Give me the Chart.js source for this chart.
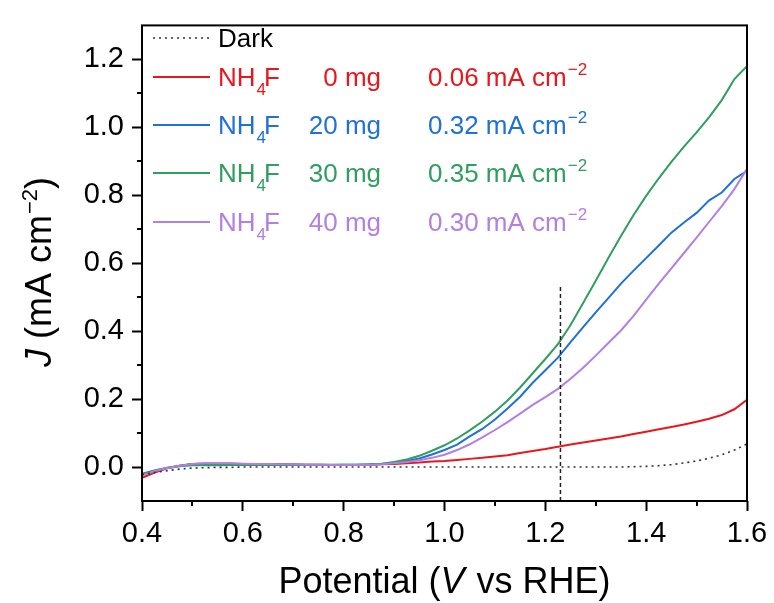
<!DOCTYPE html>
<html>
<head>
<meta charset="utf-8">
<title>LSV curves</title>
<script src="https://cdn.jsdelivr.net/npm/chart.js@4.4.1/dist/chart.umd.min.js"></script>
<style>
  html, body { margin: 0; padding: 0; background: #fff; }
  #wrap { width: 774px; height: 603px; }
</style>
</head>
<body>
<div id="wrap"><canvas id="lsv-chart" width="774" height="603"></canvas></div>
<script>
// applied potential (V vs RHE), shared by every sweep
const potential = [
  0.400, 0.425, 0.450, 0.475, 0.500, 0.525, 0.550, 0.575, 0.600, 0.625,
  0.650, 0.675, 0.700, 0.725, 0.750, 0.775, 0.800, 0.825, 0.850, 0.875,
  0.900, 0.925, 0.950, 0.975, 1.000, 1.025, 1.050, 1.075, 1.100, 1.125,
  1.150, 1.175, 1.200, 1.225, 1.250, 1.275, 1.300, 1.325, 1.350, 1.375,
  1.400, 1.425, 1.450, 1.475, 1.500, 1.525, 1.550, 1.575, 1.600
];

// current density (mA cm-2)
const darkCurrent = [
  -0.022, -0.016, -0.011, -0.006, -0.003, -0.002, -0.001, -0.001, 0.000, 0.000,
  0.000, 0.000, 0.000, 0.000, 0.000, 0.000, 0.000, 0.000, 0.000, 0.000,
  0.000, 0.000, 0.000, 0.000, 0.000, 0.000, 0.000, 0.000, 0.000, 0.000,
  0.000, 0.000, 0.000, 0.000, 0.000, 0.000, 0.000, 0.000, 0.000, 0.001,
  0.002, 0.004, 0.007, 0.012, 0.018, 0.026, 0.036, 0.050, 0.068
];
const nh4f0 = [
  -0.032, -0.016, -0.004, 0.004, 0.009, 0.010, 0.010, 0.010, 0.009, 0.009,
  0.008, 0.008, 0.007, 0.007, 0.007, 0.006, 0.006, 0.006, 0.007, 0.008,
  0.009, 0.011, 0.013, 0.016, 0.018, 0.021, 0.024, 0.027, 0.031, 0.035,
  0.041, 0.047, 0.053, 0.060, 0.066, 0.072, 0.078, 0.084, 0.090, 0.097,
  0.104, 0.111, 0.118, 0.125, 0.133, 0.142, 0.153, 0.170, 0.198
];
const nh4f20 = [
  -0.020, -0.010, -0.002, 0.004, 0.009, 0.010, 0.010, 0.010, 0.009, 0.009,
  0.008, 0.008, 0.008, 0.007, 0.007, 0.007, 0.007, 0.007, 0.007, 0.009,
  0.013, 0.018, 0.025, 0.037, 0.050, 0.066, 0.090, 0.112, 0.140, 0.172,
  0.207, 0.248, 0.285, 0.322, 0.368, 0.412, 0.455, 0.497, 0.540, 0.578,
  0.615, 0.652, 0.690, 0.720, 0.748, 0.785, 0.808, 0.848, 0.872
];
const nh4f30 = [
  -0.022, -0.011, -0.003, 0.002, 0.005, 0.005, 0.005, 0.006, 0.006, 0.006,
  0.006, 0.006, 0.006, 0.006, 0.006, 0.006, 0.007, 0.007, 0.008, 0.010,
  0.015, 0.022, 0.033, 0.048, 0.064, 0.084, 0.108, 0.134, 0.163, 0.196,
  0.234, 0.276, 0.318, 0.362, 0.418, 0.483, 0.548, 0.615, 0.680, 0.742,
  0.798, 0.850, 0.898, 0.943, 0.985, 1.030, 1.080, 1.142, 1.180
];
const nh4f40 = [
  -0.025, -0.012, -0.003, 0.004, 0.009, 0.011, 0.011, 0.011, 0.010, 0.009,
  0.009, 0.008, 0.008, 0.007, 0.007, 0.006, 0.006, 0.006, 0.006, 0.008,
  0.011, 0.015, 0.020, 0.027, 0.036, 0.050, 0.067, 0.087, 0.109, 0.132,
  0.157, 0.183, 0.206, 0.230, 0.260, 0.292, 0.328, 0.365, 0.402, 0.445,
  0.493, 0.540, 0.585, 0.630, 0.675, 0.722, 0.768, 0.818, 0.878
];

// legend entries: NH4F amount and photocurrent at 1.23 V
const nh4fMass = ["0 mg", "20 mg", "30 mg", "40 mg"];
const currentAt123 = [0.06, 0.32, 0.35, 0.30];

// reference line at the water oxidation potential
const refPotential = 1.23;
const refSpan = [-0.1, 0.53];

const xTickValues = [0.4, 0.6, 0.8, 1.0, 1.2, 1.4, 1.6];
const xMinorValues = [0.5, 0.7, 0.9, 1.1, 1.3, 1.5];
const yTickValues = [0.0, 0.2, 0.4, 0.6, 0.8, 1.0, 1.2];
const yMinorValues = [0.1, 0.3, 0.5, 0.7, 0.9, 1.1];

const FONT = '"Liberation Sans", Arial, Helvetica, sans-serif';
const seriesColors = ["#e8171e", "#2071d6", "#2f9e5f", "#b27fe3"];

function toPoints(ys) {
  return potential.map((x, i) => ({ x: x, y: ys[i] }));
}

// draws a run of text pieces (sub/superscripts, italics) left to right
function richText(ctx, parts, x, y, measureOnly) {
  let cx = x;
  for (const p of parts) {
    ctx.font = (p.italic ? "italic " : "") + p.size + "px " + FONT;
    if (!measureOnly) ctx.fillText(p.text, cx, y + (p.dy || 0));
    cx += ctx.measureText(p.text).width + (p.kern || 0);
  }
  return cx - x;
}

const decorPlugin = {
  id: "decor",
  afterDatasetsDraw(chart) {
    const ctx = chart.ctx;
    const area = chart.chartArea;
    const xs = chart.scales.x;
    const ys = chart.scales.y;

    ctx.save();
    // frame
    ctx.strokeStyle = "#000";
    ctx.lineWidth = 2;
    ctx.strokeRect(area.left, area.top, area.right - area.left, area.bottom - area.top);

    // minor ticks
    ctx.beginPath();
    yMinorValues.forEach((v) => {
      const py = Math.round(ys.getPixelForValue(v));
      ctx.moveTo(area.left - 5, py);
      ctx.lineTo(area.left, py);
    });
    xMinorValues.forEach((v) => {
      const px = Math.round(xs.getPixelForValue(v));
      ctx.moveTo(px, area.bottom);
      ctx.lineTo(px, area.bottom + 5);
    });
    ctx.stroke();

    // legend
    const rowY = [38, 77, 125, 173, 222];
    ctx.textBaseline = "alphabetic";
    ctx.lineWidth = 1.5;
    ctx.strokeStyle = "#333";
    ctx.setLineDash([2, 4]);
    ctx.beginPath();
    ctx.moveTo(153, rowY[0]);
    ctx.lineTo(210, rowY[0]);
    ctx.stroke();
    ctx.setLineDash([]);
    ctx.fillStyle = "#000";
    ctx.textAlign = "left";
    richText(ctx, [{ text: "Dark", size: 26 }], 218, rowY[0] + 9);

    nh4fMass.forEach((mass, i) => {
      const y = rowY[i + 1];
      const color = seriesColors[i];
      ctx.strokeStyle = color;
      ctx.lineWidth = 2;
      ctx.beginPath();
      ctx.moveTo(153, y);
      ctx.lineTo(210, y);
      ctx.stroke();

      ctx.fillStyle = color;
      ctx.textAlign = "left";
      richText(ctx, [
        { text: "NH", size: 26, kern: 1 },
        { text: "4", size: 17, dy: 9, kern: -2 },
        { text: "F", size: 26 }
      ], 218, y + 9);

      ctx.textAlign = "right";
      ctx.font = "26px " + FONT;
      ctx.fillText(mass, 381, y + 9);

      ctx.textAlign = "left";
      richText(ctx, [
        { text: currentAt123[i].toFixed(2) + " mA cm", size: 26, kern: 1 },
        { text: "\u22122", size: 17, dy: -11 }
      ], 428, y + 9);
    });

    // axis titles
    ctx.fillStyle = "#000";
    ctx.textAlign = "left";
    const xTitle = [
      { text: "Potential (", size: 36 },
      { text: "V", size: 36, italic: true, kern: 2 },
      { text: " vs RHE)", size: 36 }
    ];
    const xw = richText(ctx, xTitle, 0, 0, true);
    richText(ctx, xTitle, (area.left + area.right) / 2 - xw / 2, 593);

    const yTitle = [
      { text: "J", size: 36, italic: true },
      { text: " (mA cm", size: 36, kern: 1 },
      { text: "\u22122", size: 22, dy: -14 },
      { text: ")", size: 36 }
    ];
    const yw = richText(ctx, yTitle, 0, 0, true);
    ctx.translate(51, 272);
    ctx.rotate(-Math.PI / 2);
    richText(ctx, yTitle, -yw / 2, 0);
    ctx.restore();
  }
};

function lineSet(data, color, extra) {
  return Object.assign({
    data: toPoints(data),
    borderColor: color,
    borderWidth: 2,
    pointRadius: 0,
    tension: 0,
    fill: false
  }, extra || {});
}

const ctx = document.getElementById("lsv-chart").getContext("2d");
const lsvChart = new Chart(ctx, {
  type: "line",
  data: {
    datasets: [
      lineSet(darkCurrent, "#333", { borderWidth: 1.6, borderDash: [2, 4] }),
      {
        data: refSpan.map((y) => ({ x: refPotential, y: y })),
        borderColor: "#222",
        borderWidth: 1.5,
        borderDash: [4, 3],
        pointRadius: 0
      },
      lineSet(nh4f40, seriesColors[3]),
      lineSet(nh4f30, seriesColors[2]),
      lineSet(nh4f20, seriesColors[1]),
      lineSet(nh4f0, seriesColors[0])
    ]
  },
  options: {
    responsive: false,
    animation: false,
    devicePixelRatio: 1,
    layout: { padding: { left: 0, right: 27, top: 15, bottom: 0 } },
    plugins: {
      legend: { display: false },
      tooltip: { enabled: false }
    },
    scales: {
      x: {
        type: "linear",
        min: 0.4,
        max: 1.6,
        afterBuildTicks: (scale) => {
          scale.ticks = xTickValues.map((v) => ({ value: v }));
        },
        afterFit: (scale) => {
          scale.height = 102;
        },
        ticks: {
          color: "#000",
          padding: 6,
          maxRotation: 0,
          font: { family: FONT, size: 29 },
          callback: (v) => Number(v).toFixed(1)
        },
        grid: {
          drawOnChartArea: false,
          color: "#000",
          tickLength: 10,
          tickWidth: 2
        },
        border: { display: false }
      },
      y: {
        type: "linear",
        min: -0.1,
        max: 1.3,
        afterBuildTicks: (scale) => {
          scale.ticks = yTickValues.map((v) => ({ value: v }));
        },
        afterFit: (scale) => {
          scale.width = 142;
        },
        ticks: {
          color: "#000",
          padding: 8,
          font: { family: FONT, size: 29 },
          callback: (v) => Number(v).toFixed(1)
        },
        grid: {
          drawOnChartArea: false,
          color: "#000",
          tickLength: 10,
          tickWidth: 2
        },
        border: { display: false }
      }
    }
  },
  plugins: [decorPlugin]
});
</script>
</body>
</html>
